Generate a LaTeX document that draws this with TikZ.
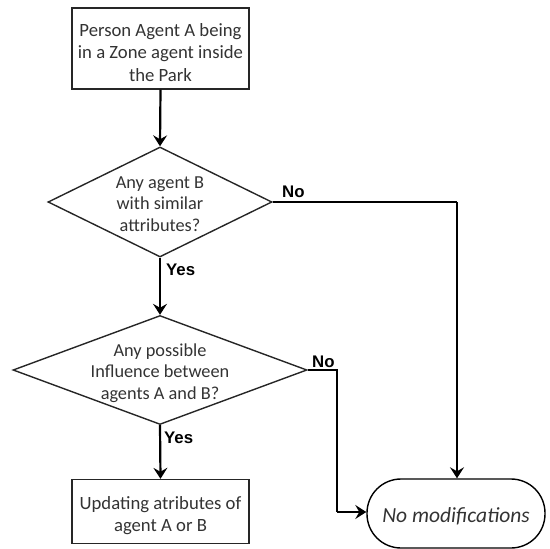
\documentclass[tikz,border=0pt]{standalone}
\usepackage{fontspec}
\setmainfont{Carlito}
\newfontfamily\lblfont{Liberation Sans}
\usetikzlibrary{shapes.geometric,arrows.meta}
\definecolor{inkgray}{HTML}{333333}
\begin{document}
\begin{tikzpicture}[x=1pt,y=-1pt,
  procbox/.style={draw=black!85,line width=1.4pt,rectangle,inner sep=0pt},
  ptext/.style={text=inkgray,align=center,inner sep=0pt,
    font=\fontsize{18.7}{22.5}\selectfont},
  decision/.style={draw=black!85,line width=1.4pt,diamond,inner sep=0pt},
  dtext/.style={text=inkgray,align=center,inner sep=0pt,
    font=\fontsize{18.3}{21.5}\selectfont},
  terminal/.style={draw=black,line width=1.4pt,rectangle,rounded corners=34pt,
    inner sep=0pt},
  ttext/.style={text=inkgray,inner sep=0pt,
    font=\fontsize{21.5}{24}\selectfont\itshape},
  flow/.style={line width=2.2pt,draw=black,
    -{Stealth[length=11pt,width=14pt,inset=4pt]}},
  plain/.style={line width=2.2pt,draw=black},
  branch/.style={font=\lblfont\bfseries\fontsize{16.8}{18}\selectfont,
    text=black,inner sep=0pt}
]
\useasboundingbox (0,0) rectangle (550,549);

% process boxes and decisions
\node[procbox,minimum width=177pt,minimum height=81pt] (start) at (160.5,48.5) {};
\node[ptext] (starttxt) at ([yshift=-4pt]start.center)
  {Person Agent A being\\in a Zone agent inside\\the Park};
\node[decision,minimum width=224pt,minimum height=110pt] (q1) at (160,202) {};
\node[dtext] (q1txt) at ([yshift=-2pt]q1.center) {Any agent B\\with similar\\attributes?};
\node[decision,minimum width=294pt,minimum height=109pt] (q2) at (160,370) {};
\node[dtext] (q2txt) at ([yshift=-3pt]q2.center) {Any possible\\Influence between\\agents A and B?};
\node[procbox,minimum width=177pt,minimum height=64pt] (update) at (160.5,511.5) {};
\node[ptext] (updatetxt) at ([yshift=-4pt]update.center)
  {Updating atributes of\\agent A or B};
\node[terminal,minimum width=178pt,minimum height=69pt] (none) at (456,513.5) {};
\node[ttext] (nonetxt) at ([yshift=-3pt]none.center) {No modifications};

% helper corners for the elbow connectors
\coordinate (c1) at (457,202);
\coordinate (c2) at (337,370);
\coordinate (c3) at (337,512);

% connectors
\draw[flow] (start.south) -- (q1.north);
\draw[flow] (q1.south) -- (q2.north);
\draw[flow] (q2.south) -- (update.north);
\draw[plain] (q1.east) -- (c1);
\draw[flow] (c1) -- (c1 |- none.north);
\draw[plain] (q2.east) -- (c2) -- (c3);
\draw[flow] (c3) -- (none.west |- c3);

% branch labels
\node[branch,anchor=south west] (no1) at (282,197.5) {No};
\node[branch,anchor=north west] (yes1) at (166,263.5) {Yes};
\node[branch,anchor=south west] (no2) at (312,368) {No};
\node[branch,anchor=north west] (yes2) at (164,432) {Yes};
\end{tikzpicture}
\end{document}
